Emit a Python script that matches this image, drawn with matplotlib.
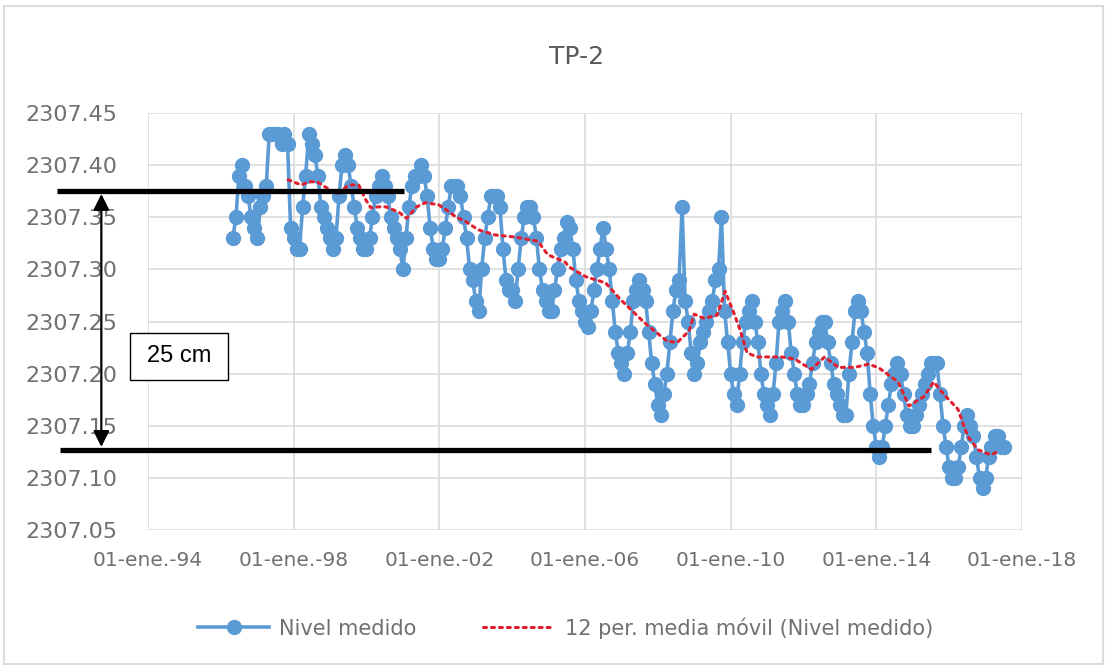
import matplotlib
matplotlib.use("Agg")
import matplotlib.pyplot as plt
import matplotlib.dates as mdates
from matplotlib.patches import Rectangle
import pandas as pd

# ---- data ----
start_month = "1996-05-01"
nivel_medido = [
    # 1996 May-Dec
    2307.33, 2307.35, 2307.39, 2307.40, 2307.38, 2307.37, 2307.35, 2307.34,
    # 1997
    2307.33, 2307.36, 2307.37, 2307.38, 2307.43, 2307.43, 2307.43, 2307.43, 2307.42, 2307.43, 2307.42, 2307.34,
    # 1998
    2307.33, 2307.32, 2307.32, 2307.36, 2307.39, 2307.43, 2307.42, 2307.41, 2307.39, 2307.36, 2307.35, 2307.34,
    # 1999
    2307.33, 2307.32, 2307.33, 2307.37, 2307.40, 2307.41, 2307.40, 2307.38, 2307.36, 2307.34, 2307.33, 2307.32,
    # 2000
    2307.32, 2307.33, 2307.35, 2307.37, 2307.38, 2307.39, 2307.38, 2307.37, 2307.35, 2307.34, 2307.33, 2307.32,
    # 2001
    2307.30, 2307.33, 2307.36, 2307.38, 2307.39, 2307.39, 2307.40, 2307.39, 2307.37, 2307.34, 2307.32, 2307.31,
    # 2002
    2307.31, 2307.32, 2307.34, 2307.36, 2307.38, 2307.38, 2307.38, 2307.37, 2307.35, 2307.33, 2307.30, 2307.29,
    # 2003
    2307.27, 2307.26, 2307.30, 2307.33, 2307.35, 2307.37, 2307.37, 2307.37, 2307.36, 2307.32, 2307.29, 2307.28,
    # 2004
    2307.28, 2307.27, 2307.30, 2307.33, 2307.35, 2307.36, 2307.36, 2307.35, 2307.33, 2307.30, 2307.28, 2307.27,
    # 2005
    2307.26, 2307.26, 2307.28, 2307.30, 2307.32, 2307.33, 2307.345, 2307.34, 2307.32, 2307.29, 2307.27, 2307.26,
    # 2006
    2307.25, 2307.245, 2307.26, 2307.28, 2307.30, 2307.32, 2307.34, 2307.32, 2307.30, 2307.27, 2307.24, 2307.22,
    # 2007
    2307.21, 2307.20, 2307.22, 2307.24, 2307.27, 2307.28, 2307.29, 2307.28, 2307.27, 2307.24, 2307.21, 2307.19,
    # 2008
    2307.17, 2307.16, 2307.18, 2307.20, 2307.23, 2307.26, 2307.28, 2307.29, 2307.36, 2307.27, 2307.25, 2307.22,
    # 2009
    2307.20, 2307.21, 2307.23, 2307.24, 2307.25, 2307.26, 2307.27, 2307.29, 2307.30, 2307.35, 2307.26, 2307.23,
    # 2010
    2307.20, 2307.18, 2307.17, 2307.20, 2307.23, 2307.25, 2307.26, 2307.27, 2307.25, 2307.23, 2307.20, 2307.18,
    # 2011
    2307.17, 2307.16, 2307.18, 2307.21, 2307.25, 2307.26, 2307.27, 2307.25, 2307.22, 2307.20, 2307.18, 2307.17,
    # 2012
    2307.17, 2307.18, 2307.19, 2307.21, 2307.23, 2307.24, 2307.25, 2307.25, 2307.23, 2307.21, 2307.19, 2307.18,
    # 2013
    2307.17, 2307.16, 2307.16, 2307.20, 2307.23, 2307.26, 2307.27, 2307.26, 2307.24, 2307.22, 2307.18, 2307.15,
    # 2014
    2307.13, 2307.12, 2307.13, 2307.15, 2307.17, 2307.19, 2307.20, 2307.21, 2307.20, 2307.18, 2307.16, 2307.15,
    # 2015
    2307.15, 2307.16, 2307.17, 2307.18, 2307.19, 2307.20, 2307.21, 2307.21, 2307.21, 2307.18, 2307.15, 2307.13,
    # 2016
    2307.11, 2307.10, 2307.10, 2307.11, 2307.13, 2307.15, 2307.16, 2307.15, 2307.14, 2307.12, 2307.10, 2307.09,
    # 2017 Jan-Jul
    2307.10, 2307.12, 2307.13, 2307.14, 2307.14, 2307.13, 2307.13,
]

media_movil_fechas = [
    "1997-11-05", "1998-03-17", "1998-06-07", "1998-08-25", "1999-03-10", "1999-07-08",
    "1999-10-15", "1999-12-24", "2000-02-14", "2000-05-04", "2000-07-12", "2000-11-20",
    "2001-02-06", "2001-05-19", "2001-08-15", "2001-12-24", "2002-03-14", "2002-06-21",
    "2002-09-20", "2003-01-26", "2003-07-16", "2004-01-30", "2004-09-16", "2004-12-24",
    "2005-06-14", "2005-07-31", "2006-01-08", "2006-07-27", "2006-12-24", "2007-08-19",
    "2008-04-05", "2008-07-16", "2008-11-10", "2009-01-01", "2009-04-09", "2009-08-18",
    "2009-11-06", "2010-02-03", "2010-04-05", "2010-06-14", "2010-09-20", "2011-05-27",
    "2011-10-05", "2012-03-21", "2012-07-31", "2012-12-17", "2013-05-27", "2013-10-12",
    "2014-01-19", "2014-05-01", "2014-08-08", "2014-11-24", "2015-04-23", "2015-07-31",
    "2015-11-10", "2016-03-29", "2016-07-05", "2016-10-16", "2017-02-21", "2017-05-01",
]
media_movil = [
    2307.386, 2307.381, 2307.384, 2307.384, 2307.372, 2307.381,
    2307.381, 2307.367, 2307.359, 2307.360, 2307.360, 2307.355,
    2307.349, 2307.360, 2307.364, 2307.362, 2307.357, 2307.350,
    2307.346, 2307.338, 2307.333, 2307.331, 2307.327, 2307.314,
    2307.307, 2307.302, 2307.293, 2307.287, 2307.271, 2307.249,
    2307.231, 2307.230, 2307.241, 2307.257, 2307.253, 2307.256,
    2307.279, 2307.258, 2307.242, 2307.220, 2307.216, 2307.216,
    2307.214, 2307.204, 2307.216, 2307.206, 2307.206, 2307.209,
    2307.206, 2307.199, 2307.192, 2307.169, 2307.178, 2307.192,
    2307.180, 2307.166, 2307.140, 2307.127, 2307.122, 2307.125,
]

title = "TP-2"
serie_label = "Nivel medido"
mm_label = "12 per. media móvil (Nivel medido)"
x_tick_years = [1994, 1998, 2002, 2006, 2010, 2014, 2018]
x_tick_labels = ["01-ene.-94", "01-ene.-98", "01-ene.-02", "01-ene.-06",
                 "01-ene.-10", "01-ene.-14", "01-ene.-18"]
y_ticks = [2307.05, 2307.10, 2307.15, 2307.20, 2307.25, 2307.30, 2307.35, 2307.40, 2307.45]

# annotation (25 cm band)
nivel_superior = 2307.375
nivel_inferior = 2307.127
linea_sup_x = ("1991-07-05", "2001-01-08")
linea_inf_x = ("1991-08-07", "2015-07-01")
flecha_x = "1992-09-20"
texto_anotacion = "25 cm"

# ---- figure ----
W, H = 1109, 668
fig = plt.figure(figsize=(W / 100, H / 100), dpi=100)
fig.patch.set_facecolor("white")
ax = fig.add_axes([148 / W, 1 - 530 / H, 874 / W, 417 / H])

fechas = pd.date_range(start_month, periods=len(nivel_medido), freq="MS")
mm_fechas = pd.to_datetime(media_movil_fechas)

blue = "#5B9BD5"
red = "#E0202E"
grid_c = "#DCDCDC"
txt_c = "#707070"

ax.plot(fechas, nivel_medido, color=blue, lw=2.6, marker="o", ms=10,
        markerfacecolor=blue, markeredgecolor=blue, label=serie_label, zorder=3)
ax.plot(mm_fechas, media_movil, color=red, lw=2.2, linestyle=(0, (1, 1.6)),
        dash_capstyle="round", label=mm_label, zorder=4)

ax.set_xlim(pd.Timestamp("1994-01-01"), pd.Timestamp("2018-01-01"))
ax.set_ylim(2307.05, 2307.45)
ax.set_xticks([pd.Timestamp(f"{y}-01-01") for y in x_tick_years])
ax.set_xticklabels(x_tick_labels)
ax.set_yticks(y_ticks)
ax.set_yticklabels([f"{v:.2f}" for v in y_ticks])

for s in ax.spines.values():
    s.set_visible(False)
ax.grid(True, color=grid_c, lw=1.2)
ax.set_axisbelow(True)
ax.tick_params(axis="y", length=0, pad=22, labelsize=16, labelcolor=txt_c)
ax.tick_params(axis="x", length=0, pad=15, labelsize=14.5, labelcolor=txt_c)

fig.text(0.52, 1 - 57 / H, title, ha="center", va="center", fontsize=18, color="#595959")

leg = fig.legend(loc="center", bbox_to_anchor=(0.51, 1 - 628 / H), ncol=2, frameon=False,
                 fontsize=15, handlelength=3.4, columnspacing=3.2, handletextpad=0.5)
for t in leg.get_texts():
    t.set_color(txt_c)

# annotation lines
ax.plot(pd.to_datetime(list(linea_sup_x)), [nivel_superior] * 2, color="black", lw=3.8,
        clip_on=False, zorder=6, solid_capstyle="butt")
ax.plot(pd.to_datetime(list(linea_inf_x)), [nivel_inferior] * 2, color="black", lw=3.8,
        clip_on=False, zorder=6, solid_capstyle="butt")
fx = pd.Timestamp(flecha_x)
ax.annotate("", xy=(mdates.date2num(fx), nivel_inferior), xytext=(mdates.date2num(fx), nivel_superior),
            arrowprops=dict(arrowstyle="<|-|>", mutation_scale=24, lw=1.6, color="black",
                            shrinkA=2, shrinkB=2),
            annotation_clip=False, zorder=7)

fig.add_artist(Rectangle((130 / W, 1 - 380 / H), 98 / W, 47 / H, transform=fig.transFigure,
                         facecolor="white", edgecolor="black", lw=1.0, zorder=8))
fig.text(179 / W, 1 - 356 / H, texto_anotacion, ha="center", va="center", fontsize=17,
         family="Liberation Sans", color="black", zorder=9)

# outer chart border
fig.add_artist(Rectangle((4 / W, 1 - 664 / H), 1099 / W, 658 / H, transform=fig.transFigure,
                         facecolor="none", edgecolor=grid_c, lw=1.5))

fig.savefig("out.png", dpi=100)
